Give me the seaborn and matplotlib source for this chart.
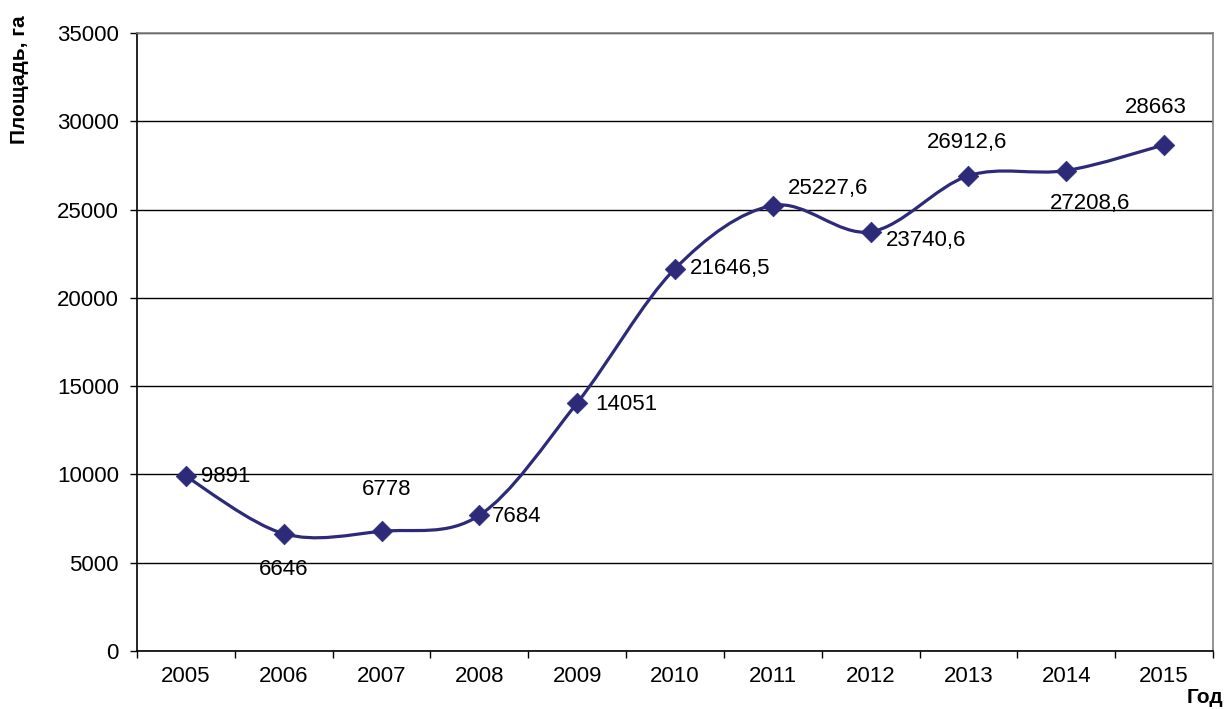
import pandas as pd
import matplotlib.pyplot as plt
import seaborn as sns
import numpy as np
from matplotlib.path import Path
from matplotlib.patches import PathPatch

# Данные
years = ['2005', '2006', '2007', '2008', '2009', '2010', '2011', '2012', '2013', '2014', '2015']
area = [9891, 6646, 6778, 7684, 14051, 21646.5, 25227.6, 23740.6, 26912.6, 27208.6, 28663]
labels = ['9891', '6646', '6778', '7684', '14051', '21646,5', '25227,6', '23740,6', '26912,6', '27208,6', '28663']

# смещения подписей (пт) и выравнивание
offsets = [(11, 0, 'left'), (0, -26, 'center'), (4, 30, 'center'), (9, -1, 'left'),
           (13, -1, 'left'), (11, 0, 'left'), (11, 12, 'left'), (11, -6, 'left'),
           (-1, 24, 'center'), (17, -24, 'center'), (-6, 27, 'center')]

sns.set_style("white")
plt.rcParams['font.family'] = ['Liberation Sans', 'DejaVu Sans']
plt.rcParams['font.size'] = 16

color = '#2D2A7A'
fs = 16

df = pd.DataFrame({'year': years, 'area': area, 'x': np.arange(len(years))})

fig = plt.figure(figsize=(12.26, 7.09), dpi=100)
ax = fig.add_axes([0.1117, 0.0818, 0.8777, 0.8717])

# сглаженная линия (как в Excel): кривые Безье по точкам данных
pts = np.column_stack([df['x'].values, df['area'].values]).astype(float)
ext = np.vstack([pts[0], pts, pts[-1]])
verts = [tuple(pts[0])]
codes = [Path.MOVETO]
for i in range(len(pts) - 1):
    p0, p1, p2, p3 = ext[i], ext[i + 1], ext[i + 2], ext[i + 3]
    c1 = p1 + (p2 - p0) / 6
    c2 = p2 - (p3 - p1) / 6
    verts += [tuple(c1), tuple(c2), tuple(p2)]
    codes += [Path.CURVE4] * 3
ax.add_patch(PathPatch(Path(verts, codes), facecolor='none', edgecolor=color, lw=2.3, zorder=3))

sns.scatterplot(data=df, x='x', y='area', marker='D', s=110, color=color,
                edgecolor=color, linewidth=0.5, zorder=4, ax=ax)

for i, (x, y) in enumerate(zip(df['x'], df['area'])):
    dx, dy, ha = offsets[i]
    ax.annotate(labels[i], (x, y), xytext=(dx, dy), textcoords='offset points',
                ha=ha, va='center', fontsize=fs, color='black')

ax.set_xlim(-0.5, len(years) - 0.5)
ax.set_ylim(0, 35000)
ax.set_yticks(np.arange(0, 35001, 5000))
ax.set_xticks(np.arange(len(years)))
ax.set_xticklabels(years)
ax.set_xticks(np.arange(-0.5, len(years), 1), minor=True)
ax.tick_params(axis='x', which='major', bottom=False, length=0, pad=11, labelsize=fs, labelcolor='black')
ax.tick_params(axis='x', which='minor', bottom=True, length=5, width=1, color='black', direction='out')
ax.tick_params(axis='y', left=True, length=5, width=1, color='black', direction='out', pad=8,
               labelsize=fs, labelcolor='black')

ax.yaxis.grid(True, color='black', lw=1)
ax.set_axisbelow(True)
ax.set_xlabel('')
ax.set_ylabel('')

for s in ['left', 'bottom']:
    ax.spines[s].set_color('black')
    ax.spines[s].set_linewidth(1.2)
for s in ['top', 'right']:
    ax.spines[s].set_color('#808080')
    ax.spines[s].set_linewidth(1.2)

fig.text(0.016, 0.887, 'Площадь, га', rotation=90, ha='center', va='center',
         fontsize=15, fontweight='bold', color='black')
fig.text(0.998, 0.003, 'Год', ha='right', va='bottom', fontsize=15, fontweight='bold', color='black')

plt.savefig('out.png', dpi=100)
